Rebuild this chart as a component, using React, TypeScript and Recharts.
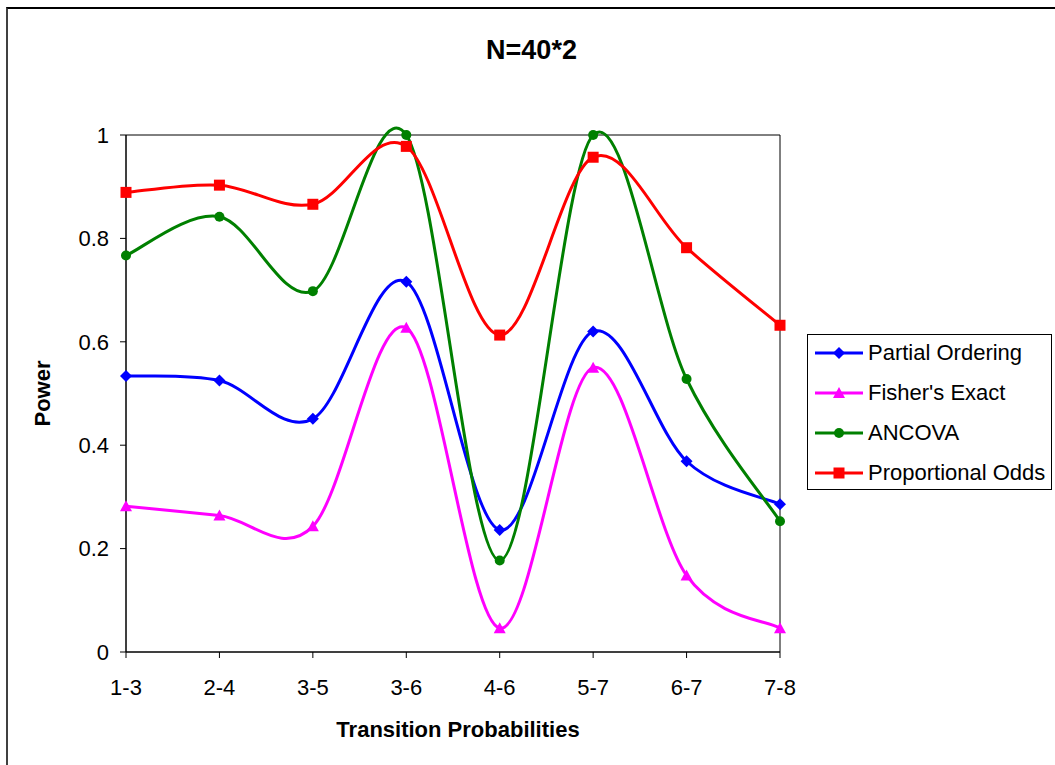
import React from 'react';
import { LineChart, Line, XAxis, YAxis, Legend, ReferenceArea } from 'recharts';

const categories = ['1-3', '2-4', '3-5', '3-6', '4-6', '5-7', '6-7', '7-8'];
const partialOrdering = [0.534, 0.525, 0.451, 0.716, 0.236, 0.62, 0.369, 0.286];
const fishersExact = [0.282, 0.264, 0.243, 0.627, 0.046, 0.55, 0.148, 0.046];
const ancova = [0.767, 0.842, 0.698, 1.0, 0.177, 1.0, 0.528, 0.253];
const proportionalOdds = [0.889, 0.903, 0.866, 0.978, 0.613, 0.957, 0.782, 0.632];
const yTicks = [0, 0.2, 0.4, 0.6, 0.8, 1];

const data = categories.map((c, i) => ({
    name: c,
    partial: partialOrdering[i],
    fisher: fishersExact[i],
    ancova: ancova[i],
    odds: proportionalOdds[i],
}));

const series = [
    { key: 'partial', name: 'Partial Ordering', color: '#0000ff', shape: 'diamond' },
    { key: 'fisher', name: "Fisher's Exact", color: '#ff00ff', shape: 'triangle' },
    { key: 'ancova', name: 'ANCOVA', color: '#008000', shape: 'circle' },
    { key: 'odds', name: 'Proportional Odds', color: '#ff0000', shape: 'square' },
];

const FONT = '"Liberation Sans", Arial, sans-serif';

// Excel-style smoothed line (Catmull-Rom through the points)
const excelSmooth: any = (context: any) => {
    let pts: number[][] = [];
    return {
        areaStart() {},
        areaEnd() {},
        lineStart() { pts = []; },
        point(x: number, y: number) { pts.push([+x, +y]); },
        lineEnd() {
            if (!pts.length) return;
            context.moveTo(pts[0][0], pts[0][1]);
            for (let i = 0; i < pts.length - 1; i++) {
                const p0 = pts[i - 1] || pts[i];
                const p1 = pts[i];
                const p2 = pts[i + 1];
                const p3 = pts[i + 2] || p2;
                context.bezierCurveTo(
                    p1[0] + (p2[0] - p0[0]) / 6, p1[1] + (p2[1] - p0[1]) / 6,
                    p2[0] - (p3[0] - p1[0]) / 6, p2[1] - (p3[1] - p1[1]) / 6,
                    p2[0], p2[1]
                );
            }
        },
    };
};

const Marker = ({ cx, cy, shape, color }: any) => {
    if (cx == null || cy == null) return null;
    if (shape === 'diamond') {
        return <path d={`M${cx},${cy - 6}L${cx + 6},${cy}L${cx},${cy + 6}L${cx - 6},${cy}Z`} fill={color} />;
    }
    if (shape === 'triangle') {
        return <path d={`M${cx},${cy - 6}L${cx + 6},${cy + 5}L${cx - 6},${cy + 5}Z`} fill={color} />;
    }
    if (shape === 'circle') {
        return <circle cx={cx} cy={cy} r={5} fill={color} />;
    }
    return <rect x={cx - 5.5} y={cy - 5.5} width={11} height={11} fill={color} />;
};

const LegendBox = () => (
    <div style={{ border: '1px solid #000', background: '#fff', width: 243, height: 154, fontFamily: FONT, fontSize: 22, paddingTop: 0 }}>
        {series.map((s, i) => (
            <div key={s.key} style={{ position: 'absolute', left: 7, top: 5 + i * 40, height: 28, display: 'flex', alignItems: 'center' }}>
                <svg width={50} height={16}>
                    <line x1={1} y1={8} x2={49} y2={8} stroke={s.color} strokeWidth={3} />
                    <Marker cx={25} cy={8} shape={s.shape} color={s.color} />
                </svg>
                <span style={{ marginLeft: 4, color: '#000', whiteSpace: 'nowrap' }}>{s.name}</span>
            </div>
        ))}
    </div>
);

export default function App() {
    return (
        <div style={{ position: 'absolute', left: 0, top: 0, width: 1055, height: 765, overflow: 'hidden', background: '#fff' }}>
            <div style={{ position: 'absolute', left: 6, top: 7, width: 1200, height: 900, borderLeft: '2px solid #404040', borderTop: '2px solid #000' }} />
            <div style={{ position: 'absolute', left: 0, top: 37, width: 1063, textAlign: 'center', fontFamily: FONT, fontWeight: 'bold', fontSize: 27, lineHeight: '27px', color: '#000' }}>
                N=40*2
            </div>
            <div style={{ position: 'absolute', left: 0, top: 0 }}>
                <LineChart width={1055} height={765} data={data} margin={{ top: 135, right: 275, bottom: 53, left: 66 }}>
                    <ReferenceArea x1="1-3" x2="7-8" y1={0} y2={1} fill="none" stroke="#000" strokeWidth={1} ifOverflow="visible" />
                    <XAxis
                        dataKey="name"
                        height={60}
                        stroke="#000"
                        tickSize={6}
                        tickMargin={21}
                        tick={{ fill: '#000', fontSize: 22, fontFamily: FONT }}
                        interval={0}
                        label={{ value: 'Transition Probabilities', position: 'center', dx: 5, dy: 47, style: { fontSize: 22, fontWeight: 'bold', fontFamily: FONT, fill: '#000' } }}
                    />
                    <YAxis
                        width={60}
                        domain={[0, 1]}
                        ticks={yTicks}
                        stroke="#000"
                        tickSize={6}
                        tickMargin={11}
                        tick={{ fill: '#000', fontSize: 22, fontFamily: FONT }}
                        tickFormatter={(v: number) => `${v}`}
                        label={{ value: 'Power', angle: -90, position: 'center', dx: -54, style: { fontSize: 22, fontWeight: 'bold', fontFamily: FONT, fill: '#000' } }}
                    />
                    <Legend
                        layout="vertical"
                        align="center"
                        verticalAlign="middle"
                        wrapperStyle={{ left: 807, top: 334, width: 245, height: 156 }}
                        content={() => <LegendBox />}
                    />
                    {series.map((s) => (
                        <Line
                            key={s.key}
                            dataKey={s.key}
                            name={s.name}
                            type={excelSmooth}
                            stroke={s.color}
                            strokeWidth={3}
                            isAnimationActive={false}
                            dot={(p: any) => <Marker key={`${s.key}-${p.index}`} cx={p.cx} cy={p.cy} shape={s.shape} color={s.color} />}
                            activeDot={false}
                        />
                    ))}
                </LineChart>
            </div>
        </div>
    );
}
